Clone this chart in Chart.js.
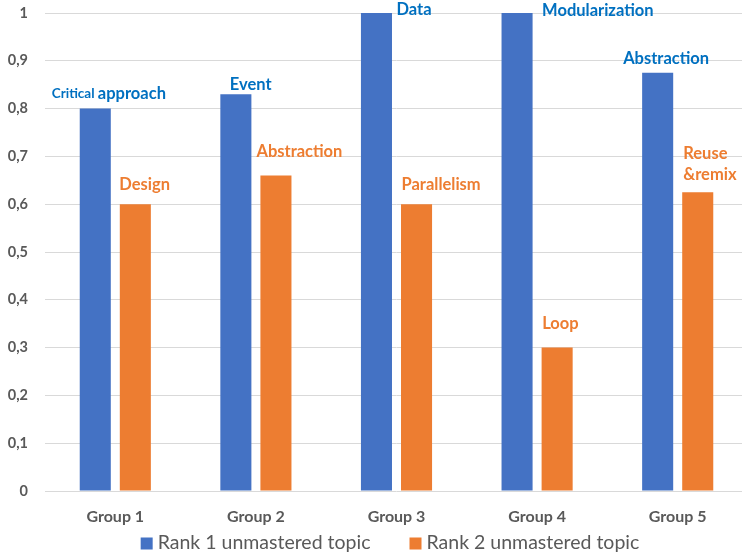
<!DOCTYPE html>
<html lang="en">
<head>
    <meta charset="UTF-8">
    <title>Unmastered topics by group</title>
    <script src="https://cdn.jsdelivr.net/npm/chart.js"></script>
    <style>
        html, body {
            margin: 0;
            padding: 0;
            overflow: hidden;
            background: #fff;
        }
        #wrap {
            width: 748px;
            height: 559px;
        }
    </style>
</head>
<body>
    <div id="wrap"><canvas id="myChart"></canvas></div>
    <script>
        const groups = ['Group 1', 'Group 2', 'Group 3', 'Group 4', 'Group 5'];
        const seriesNames = ['Rank 1 unmastered topic', 'Rank 2 unmastered topic'];
        const rank1Values = [0.8, 0.83, 1, 1, 0.875];
        const rank2Values = [0.6, 0.66, 0.6, 0.3, 0.625];
        const rank1Topics = ['Critical approach', 'Event', 'Data', 'Modularization', 'Abstraction'];
        const rank2Topics = ['Design', 'Abstraction', 'Parallelism', 'Loop', ['Reuse', '&remix']];
        const yTicks = [0, 0.1, 0.2, 0.3, 0.4, 0.5, 0.6, 0.7, 0.8, 0.9, 1];

        const FONT = 'Lato, "Open Sans", sans-serif';
        const BLUE = '#4472C4';
        const ORANGE = '#ED7D31';
        const GREY = '#595959';

        // label placement relative to each bar top (left edge of text, middle of first line)
        const labelLayout = [
            { color: '#0070C0', dx: [-43.5, -6, 20, 25, -34.5], dy: [-15, -10, -3, -2.5, -14.5] },
            { color: ORANGE, dx: [-16, -19.5, -15, -15, -14.5], dy: [-19.5, -24, -19.5, -24, -39] }
        ];
        const smallWords = ['Critical'];

        const topicLabels = {
            id: 'topicLabels',
            afterDatasetsDraw(chart) {
                const ctx = chart.ctx;
                const texts = [rank1Topics, rank2Topics];
                ctx.save();
                ctx.textBaseline = 'middle';
                ctx.textAlign = 'left';
                chart.data.datasets.forEach((ds, di) => {
                    const meta = chart.getDatasetMeta(di);
                    const lay = labelLayout[di];
                    ctx.fillStyle = lay.color;
                    meta.data.forEach((bar, i) => {
                        const lines = [].concat(texts[di][i]);
                        let y = bar.y + lay.dy[i];
                        lines.forEach(line => {
                            let x = bar.x + lay.dx[i];
                            line.split(' ').forEach((word, wi, arr) => {
                                const size = smallWords.includes(word) ? 13.5 : 16.5;
                                ctx.font = 'bold ' + size + 'px ' + FONT;
                                const w = wi < arr.length - 1 ? word + ' ' : word;
                                ctx.fillText(w, x, y);
                                x += ctx.measureText(w).width;
                            });
                            y += 21;
                        });
                    });
                });
                ctx.restore();
            }
        };

        // legend row under the axis: square swatch + series name
        const bottomLegend = {
            id: 'bottomLegend',
            afterDraw(chart) {
                const ctx = chart.ctx;
                const box = 12, gap = 5, spacing = 39;
                ctx.save();
                ctx.font = '19.5px ' + FONT;
                ctx.textBaseline = 'middle';
                ctx.textAlign = 'left';
                const widths = chart.data.datasets.map(ds => box + gap + ctx.measureText(ds.label).width);
                const total = widths.reduce((a, b) => a + b, 0) + spacing * (widths.length - 1);
                let x = chart.width / 2 + 16 - total / 2;
                const y = 543.5;
                chart.data.datasets.forEach((ds, i) => {
                    ctx.fillStyle = ds.backgroundColor;
                    ctx.fillRect(x, y - box / 2, box, box);
                    ctx.fillStyle = GREY;
                    ctx.fillText(ds.label, x + box + gap, y - 1);
                    x += widths[i] + spacing;
                });
                ctx.restore();
            }
        };

        const ctx = document.getElementById('myChart').getContext('2d');
        new Chart(ctx, {
            type: 'bar',
            data: {
                labels: groups,
                datasets: [{
                    label: seriesNames[0],
                    data: rank1Values,
                    backgroundColor: BLUE
                }, {
                    label: seriesNames[1],
                    data: rank2Values,
                    backgroundColor: ORANGE
                }]
            },
            options: {
                responsive: true,
                maintainAspectRatio: false,
                animation: false,
                categoryPercentage: 0.57,
                barPercentage: 0.775,
                layout: {
                    padding: { top: 13, left: 0, right: 0, bottom: 28 }
                },
                plugins: {
                    tooltip: { enabled: false },
                    legend: { display: false }
                },
                scales: {
                    x: {
                        grid: { display: false },
                        border: { display: false },
                        ticks: {
                            color: GREY,
                            padding: 8,
                            font: { family: FONT, size: 16, weight: 'bold' }
                        },
                        afterFit(scale) { scale.height = 40; }
                    },
                    y: {
                        min: 0,
                        max: 1,
                        afterBuildTicks(scale) {
                            scale.ticks = yTicks.map(v => ({ value: v }));
                        },
                        grid: {
                            color: '#d9d9d9',
                            lineWidth: 1,
                            drawTicks: false
                        },
                        border: { display: false },
                        ticks: {
                            color: GREY,
                            padding: 17,
                            font: { family: FONT, size: 14.5, weight: 'bold' },
                            callback: v => String(Math.round(v * 10) / 10).replace('.', ',')
                        },
                        afterFit(scale) {
                            scale.width = 45;
                            scale.paddingTop = 0;
                            scale.paddingBottom = 0;
                        }
                    }
                }
            },
            plugins: [topicLabels, bottomLegend]
        });
    </script>
</body>
</html>
